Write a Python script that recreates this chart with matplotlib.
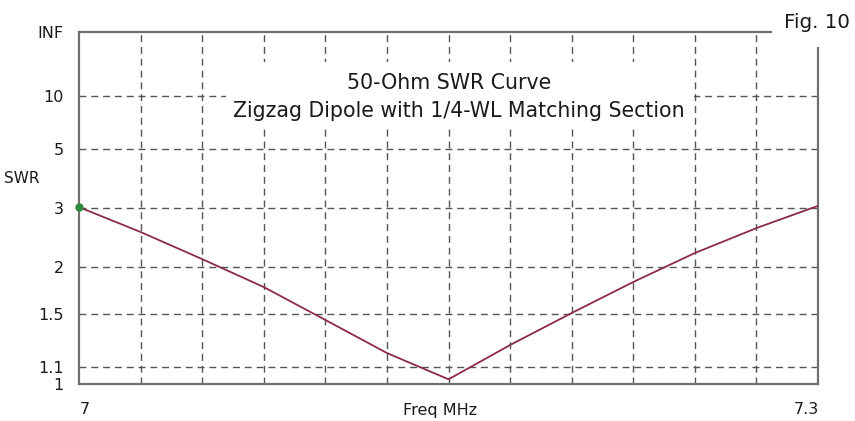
import numpy as np
import matplotlib
matplotlib.use("Agg")
import matplotlib.pyplot as plt
from matplotlib.patches import Rectangle

plt.rcParams['font.family'] = ['DejaVu Sans']

# Data
freq = [7.0, 7.025, 7.05, 7.075, 7.1, 7.125, 7.15, 7.175, 7.2, 7.225, 7.25, 7.275, 7.3]
swr = [3.02, 2.52, 2.10, 1.76, 1.445, 1.193, 1.027, 1.249, 1.505, 1.816, 2.185, 2.59, 3.05]
ytick_vals = [1.0, 1.1, 1.5, 2, 3, 5, 10, 1e15]
ytick_labels = ['1', '1.1', '1.5', '2', '3', '5', '10', 'INF']
xgrid = [7.0 + 0.025 * i for i in range(13)]
title1 = "50-Ohm SWR Curve"
title2 = "Zigzag Dipole with 1/4-WL Matching Section"


def fwd(s):
    s = np.asarray(s, dtype=float)
    with np.errstate(divide='ignore', invalid='ignore'):
        g = (s - 1.0) / (s + 1.0)
    return np.where(np.isinf(s), 1.0, g)


def inv(g):
    g = np.clip(np.asarray(g, dtype=float), -0.999999, 0.999999)
    return (1.0 + g) / (1.0 - g)


W, H = 855, 421


def fx(px):
    return px / W


def fy(py):
    return 1 - py / H


fig = plt.figure(figsize=(8.55, 4.21), dpi=100)
ax = fig.add_axes([fx(79), fy(384), (818 - 79) / W, (384 - 32) / H])
ax.set_yscale('function', functions=(fwd, inv))
ax.set_xlim(7.0, 7.3)
ax.set_ylim(1.0, 1e15)

gridc = '#555555'
for x in xgrid[1:-1]:
    ax.axvline(x, color=gridc, lw=1.0, ls=(0, (5, 3.5)), zorder=1)
for y in ytick_vals[1:-1]:
    ax.axhline(y, color=gridc, lw=1.0, ls=(0, (5, 3.5)), zorder=1)

# white panel behind the title
ax.add_patch(Rectangle((fx(226), fy(128)), (694 - 226) / W, (128 - 62) / H,
                       transform=fig.transFigure, facecolor='white',
                       edgecolor='none', zorder=2))

ax.plot(freq, swr, color='#8c2a4e', lw=1.3, zorder=3)
ax.plot(freq[0], swr[0], 'o', color='#2e8b3e', ms=5, zorder=4, clip_on=False)

for s in ax.spines.values():
    s.set_color('#707070')
    s.set_linewidth(1.6)

tc = '#1a1a1a'
ax.set_yticks(ytick_vals)
ax.set_yticklabels(ytick_labels)
ax.set_xticks([])
ax.tick_params(axis='y', length=0, pad=11, labelsize=11.5, colors=tc)
ax.set_yticks([], minor=True)

fig.text(fx(4), fy(178), 'SWR', ha='left', va='center', fontsize=11, color=tc)
fig.text(fx(80), fy(409), '7', ha='left', va='center', fontsize=11.5, color=tc)
fig.text(fx(440), fy(410), 'Freq MHz', ha='center', va='center', fontsize=11.5, color=tc)
fig.text(fx(819), fy(409), '7.3', ha='right', va='center', fontsize=11.5, color=tc)

fig.text(fx(449), fy(89), title1, ha='center', va='baseline', fontsize=14.8, color=tc, zorder=6)
fig.text(fx(459), fy(117), title2, ha='center', va='baseline', fontsize=14.8, color=tc, zorder=6)

fig.patches.append(Rectangle((fx(772), fy(47)), 83 / W, 47 / H,
                             transform=fig.transFigure, facecolor='white',
                             edgecolor='none', zorder=5))
fig.text(fx(817), fy(28), 'Fig. 10', ha='center', va='baseline', fontsize=14.3, color=tc, zorder=10)

fig.savefig('out.png', dpi=100, facecolor='white')
